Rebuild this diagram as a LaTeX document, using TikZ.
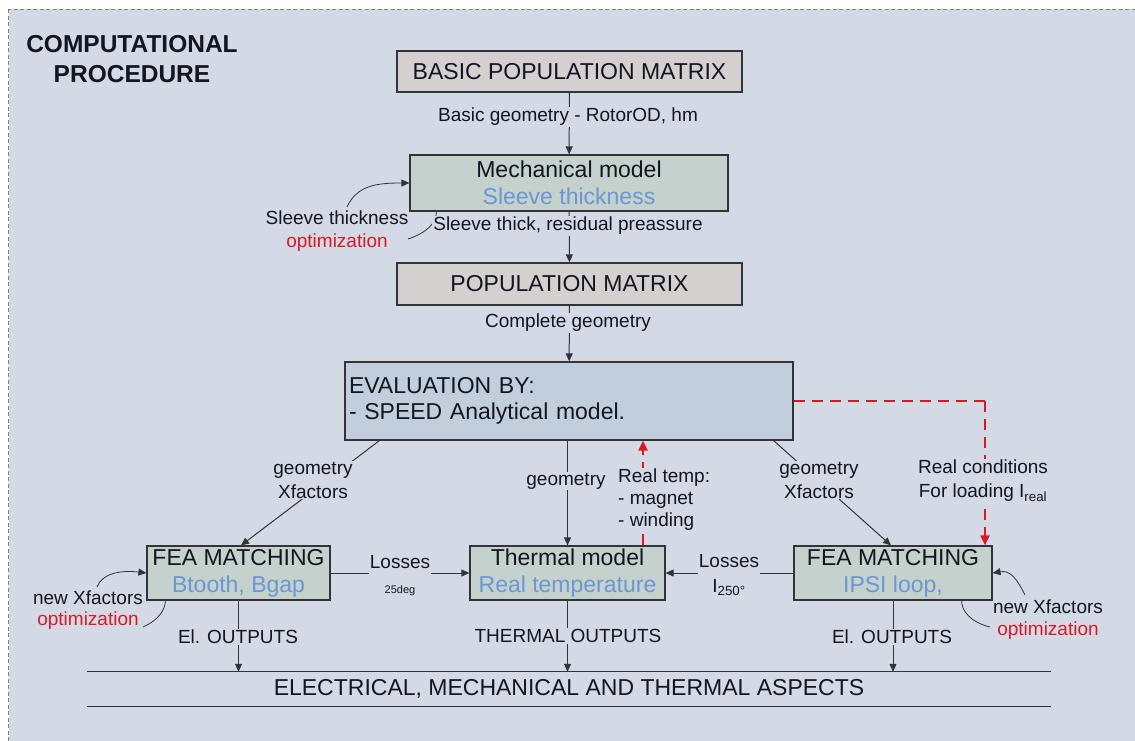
\documentclass[tikz,border=0pt]{standalone}
\usepackage{fontspec}
\setmainfont{Liberation Sans}
\usetikzlibrary{arrows.meta,positioning,calc}

\definecolor{panelbg}{RGB}{211,218,229}
\definecolor{matrixfill}{RGB}{212,208,208}
\definecolor{modelfill}{RGB}{197,209,204}
\definecolor{evalfill}{RGB}{194,206,220}
\definecolor{subblue}{RGB}{108,150,212}
\definecolor{optred}{RGB}{220,24,36}
\definecolor{linegray}{RGB}{50,52,58}
\definecolor{inkdark}{RGB}{18,22,32}

\newcommand{\boxfont}{\fontsize{23}{27}\selectfont}
\newcommand{\lblfont}{\fontsize{19}{23}\selectfont}
\newcommand{\subtxt}[1]{\textcolor{subblue}{#1}}
\newcommand{\optword}{\textcolor{optred}{optimization}}

\begin{document}
\begin{tikzpicture}[
    x=1pt, y=-1pt,
    % --- Node styles ---
    procbox/.style={draw=linegray, line width=1.2pt, inner sep=2pt, font=\boxfont,
      align=center, text=inkdark, minimum height=54pt},
    matrixbox/.style={procbox, fill=matrixfill, minimum width=345pt, minimum height=41pt},
    modelbox/.style={procbox, fill=modelfill},
    evalbox/.style={procbox, fill=evalfill, minimum width=448pt, minimum height=78pt,
      text width=440pt, align=left, font=\fontsize{23}{26}\selectfont},
    lbl/.style={fill=panelbg, inner sep=1pt, font=\lblfont, align=center, text=inkdark},
    % --- Connector styles ---
    flow/.style={draw=linegray, line width=1pt, -{Triangle[length=8pt,width=7pt]}},
    loopflow/.style={draw=linegray, line width=0.8pt, -{Triangle[length=8pt,width=7pt]}},
    plain/.style={draw=linegray, line width=0.8pt},
    feedback/.style={draw=optred, line width=2pt, dash pattern=on 11pt off 7pt,
      -{Triangle[length=10pt,width=9pt]}},
]

% === Page and panel ===
\useasboundingbox (0,0) rectangle (1135,740);
\fill[white] (0,0) rectangle (1135,740);
\draw[fill=panelbg, draw=gray, line width=0.9pt, dash pattern=on 4pt off 2.5pt]
  (8.5,9) rectangle (1160,760);

\node[font=\fontsize{24.5}{30}\selectfont\bfseries, align=center, text=inkdark]
  (title) at (132,59) {COMPUTATIONAL\\PROCEDURE};

% === Boxes ===
\node[matrixbox] (bpm) at (569.5,71.5) {BASIC POPULATION MATRIX};
\node[modelbox, minimum width=318pt, minimum height=56pt]
  (mech) at (569,183) {Mechanical model\\\subtxt{Sleeve thickness}};
\node[matrixbox, minimum height=42pt] (pm) at (569.5,284) {POPULATION MATRIX};
\node[evalbox] (eval) at (569,401) {EVALUATION BY:\\- SPEED Analytical model.};

\node[modelbox, minimum width=183pt] (fea1) at (238.5,573)
  {FEA MATCHING\\\subtxt{Btooth, Bgap}};
\node[modelbox, minimum width=195pt] (therm) at (567.5,573)
  {Thermal model\\\subtxt{Real temperature}};
\node[modelbox, minimum width=198pt] (fea2) at (893,573)
  {FEA MATCHING\\\subtxt{IPSI loop,}};

\node[minimum width=964pt, minimum height=34pt, inner sep=0pt,
  font=\boxfont, text=inkdark] (aspects) at (569,689)
  {ELECTRICAL, MECHANICAL AND THERMAL ASPECTS};
\draw[plain, line width=1pt] (aspects.north west) -- (aspects.north east);
\draw[plain, line width=1pt] (aspects.south west) -- (aspects.south east);

% === Main flow ===
\draw[flow] (bpm) -- (mech);
\draw[flow] (mech) -- (pm);
\draw[flow] (pm) -- (eval);
\draw[flow] ([xshift=35pt]eval.south west) -- ([xshift=2.5pt]fea1.north);
\draw[flow] (eval.south -| therm.north) -- (therm.north);
\draw[flow] ([xshift=-20pt]eval.south east) -- ([xshift=-2pt]fea2.north);
\draw[flow] (fea1.east) -- (therm.west);
\draw[flow] (fea2.west) -- (therm.east);
\draw[flow] (fea1.south) -- (fea1.south |- aspects.north);
\draw[flow] (therm.south) -- (therm.south |- aspects.north);
\draw[flow] (fea2.south) -- (fea2.south |- aspects.north);

% === Feedback (red, dashed) ===
\draw[feedback] ([xshift=75.5pt]therm.north) -- ([xshift=75.5pt]therm.north |- eval.south);
\coordinate (condTurn) at ([xshift=-7.6pt]fea2.north east |- eval.east);
\draw[feedback, -] (eval.east) -- (condTurn);
\draw[feedback] (condTurn) -- ([xshift=-7.6pt]fea2.north east);

% === Optimization loops ===
\coordinate (slA) at (347,207);
\coordinate (slB) at (408,239);
\draw[loopflow] (slA) .. controls +(10,-22) and +(-32,0) .. (mech.west);
\draw[plain] (slB) .. controls +(18,-6) and +(0,12) .. ([xshift=27pt]mech.south west);

\coordinate (fnA) at (97,587);
\coordinate (fnB) at (143,627);
\draw[loopflow] (fnA) .. controls +(5,-14) and +(-25,-3) .. (fea1.west);
\draw[plain] (fnB) .. controls +(14,-6) and +(0,10) .. ([xshift=19pt]fea1.south west);

\coordinate (frA) at (1025,595);
\coordinate (frB) at (990,627);
\draw[loopflow] (frA) .. controls +(-8,-16) and +(18,-3) .. (fea2.east);
\draw[plain] (frB) .. controls +(-20,-5) and +(0,10) .. ([xshift=-31pt]fea2.south east);

% === Labels ===
\node[lbl] (lbBasic) at (568,117) {Basic geometry - RotorOD, hm};
\node[lbl] (lbSleeve) at (568,226) {Sleeve thick, residual preassure};
\node[lbl] (lbComplete) at (568,323) {Complete geometry};
\node[lbl, fill=none, font=\fontsize{19}{23}\selectfont] (lbSleeveOpt) at (337,231.5)
  {Sleeve thickness\\\optword};

\node[lbl, font=\fontsize{19}{24}\selectfont] (lbGeoL) at (313,480) {geometry\\Xfactors};
\node[lbl] (lbGeoM) at (566,481) {geometry};
\node[lbl, font=\fontsize{19}{24}\selectfont] (lbGeoR) at (819,480) {geometry\\Xfactors};
\node[lbl, anchor=west, align=left, font=\fontsize{19}{22}\selectfont]
  (lbTemp) at (617,500) {Real temp:\\- magnet\\- winding};
\node[lbl, font=\fontsize{19}{24}\selectfont] (lbCond) at (983,481)
  {Real conditions\\For loading I\textsubscript{real}};

\node[lbl, font=\fontsize{19}{25}\selectfont] (lbLossL) at (400,576)
  {Losses\\{\fontsize{11}{13}\selectfont 25deg}};
\node[lbl, font=\fontsize{19}{25}\selectfont] (lbLossR) at (729,575)
  {Losses\\I\textsubscript{250°}};

\node[lbl, fill=none, font=\fontsize{19}{21}\selectfont] (lbNewL) at (88,610)
  {new Xfactors\\\optword};
\node[lbl, fill=none, font=\fontsize{19}{22}\selectfont] (lbNewR) at (1048,619.5)
  {new Xfactors\\\optword};

\node[lbl] (lbOutL) at (238,637) {El. OUTPUTS};
\node[lbl] (lbOutM) at (568,636) {THERMAL OUTPUTS};
\node[lbl] (lbOutR) at (892,637) {El. OUTPUTS};

\end{tikzpicture}
\end{document}
